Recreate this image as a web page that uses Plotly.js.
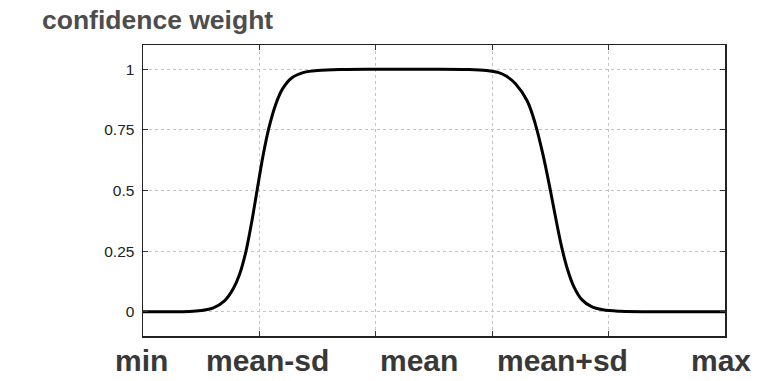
<!DOCTYPE html>
<html>
<head>
<meta charset="utf-8">
<script src="https://cdn.plot.ly/plotly-3.0.1.min.js"></script>
<style>html,body{margin:0;padding:0;background:#fff;}#chart{width:757px;height:381px;}</style>
</head>
<body>
<div id="chart"></div>
<script>
// Curve values (x in position units 0..5, y = confidence weight)
const curveX = [0, 0.2, 0.4, 0.5, 0.6, 0.7, 0.775, 0.83, 0.88, 0.93, 0.98, 1.03, 1.08, 1.14, 1.2, 1.28, 1.39, 1.5, 1.7, 2.0, 2.4, 2.8, 2.95, 3.05, 3.12, 3.2, 3.3, 3.37, 3.44, 3.5, 3.55, 3.6, 3.65, 3.7, 3.77, 3.85, 3.95, 4.1, 4.5, 5];
const curveY = [0, 0, 0.001, 0.005, 0.015, 0.045, 0.095, 0.155, 0.24, 0.36, 0.5, 0.64, 0.755, 0.855, 0.92, 0.965, 0.988, 0.995, 0.999, 1, 1, 0.999, 0.995, 0.987, 0.972, 0.94, 0.87, 0.775, 0.64, 0.5, 0.375, 0.26, 0.17, 0.105, 0.05, 0.022, 0.008, 0.002, 0, 0];

// Axis ticks / labels
const xGridVals = [1, 2, 3, 4];
const xRange = [0, 5];
const yTickVals = [0, 0.25, 0.5, 0.75, 1];
const yTickText = ['0', '0.25', '0.5', '0.75', '1'];
const xLabelText = ['min', 'mean-sd', 'mean', 'mean+sd', 'max'];
const xLabelPos = [-0.015, 1.069, 2.368, 3.608, 4.963];
const titleText = 'confidence weight';

const trace = {
  x: curveX, y: curveY, type: 'scatter', mode: 'lines',
  line: {color: '#000', width: 3, shape: 'spline', smoothing: 1},
  hoverinfo: 'skip'
};

const annotations = xLabelText.map((t, i) => ({
  text: '<b>' + t + '</b>',
  x: (xLabelPos[i] - xRange[0]) / (xRange[1] - xRange[0]), xref: 'paper',
  y: -0.085, yref: 'paper',
  yanchor: 'middle', xanchor: 'center', showarrow: false,
  font: {family: 'Liberation Sans, Arial, sans-serif', size: 30, color: '#383838'}
}));

const layout = {
  width: 757, height: 381,
  margin: {l: 143, r: 32, t: 45, b: 45},
  paper_bgcolor: '#fff', plot_bgcolor: '#fff',
  showlegend: false,
  title: {
    text: '<b>' + titleText + '</b>',
    x: 42 / 757, xref: 'container', xanchor: 'left',
    y: 1 - 20 / 381, yref: 'container', yanchor: 'middle',
    font: {family: 'Liberation Sans, Arial, sans-serif', size: 26.5, color: '#4d4d4d'}
  },
  xaxis: {
    range: xRange, tickvals: xGridVals, showticklabels: false,
    ticks: 'inside', ticklen: 5, tickcolor: '#333', mirror: 'ticks',
    showline: true, linecolor: '#222', linewidth: 1.5,
    showgrid: true, gridcolor: '#c4c4c4', griddash: 'dot', gridwidth: 1,
    zeroline: false, fixedrange: true
  },
  yaxis: {
    range: [-0.1, 1.1], tickvals: yTickVals, ticktext: yTickText,
    ticks: 'inside', ticklen: 5, tickcolor: '#333', mirror: 'ticks',
    showline: true, linecolor: '#222', linewidth: 1.5,
    showgrid: true, gridcolor: '#c4c4c4', griddash: 'dot', gridwidth: 1,
    zeroline: false, ticklabelstandoff: 4,
    tickfont: {family: 'Liberation Sans, Arial, sans-serif', size: 15.5, color: '#222'},
    fixedrange: true
  },
  annotations: annotations
};

Plotly.newPlot('chart', [trace], layout, {displayModeBar: false, staticPlot: true});
</script>
</body>
</html>
